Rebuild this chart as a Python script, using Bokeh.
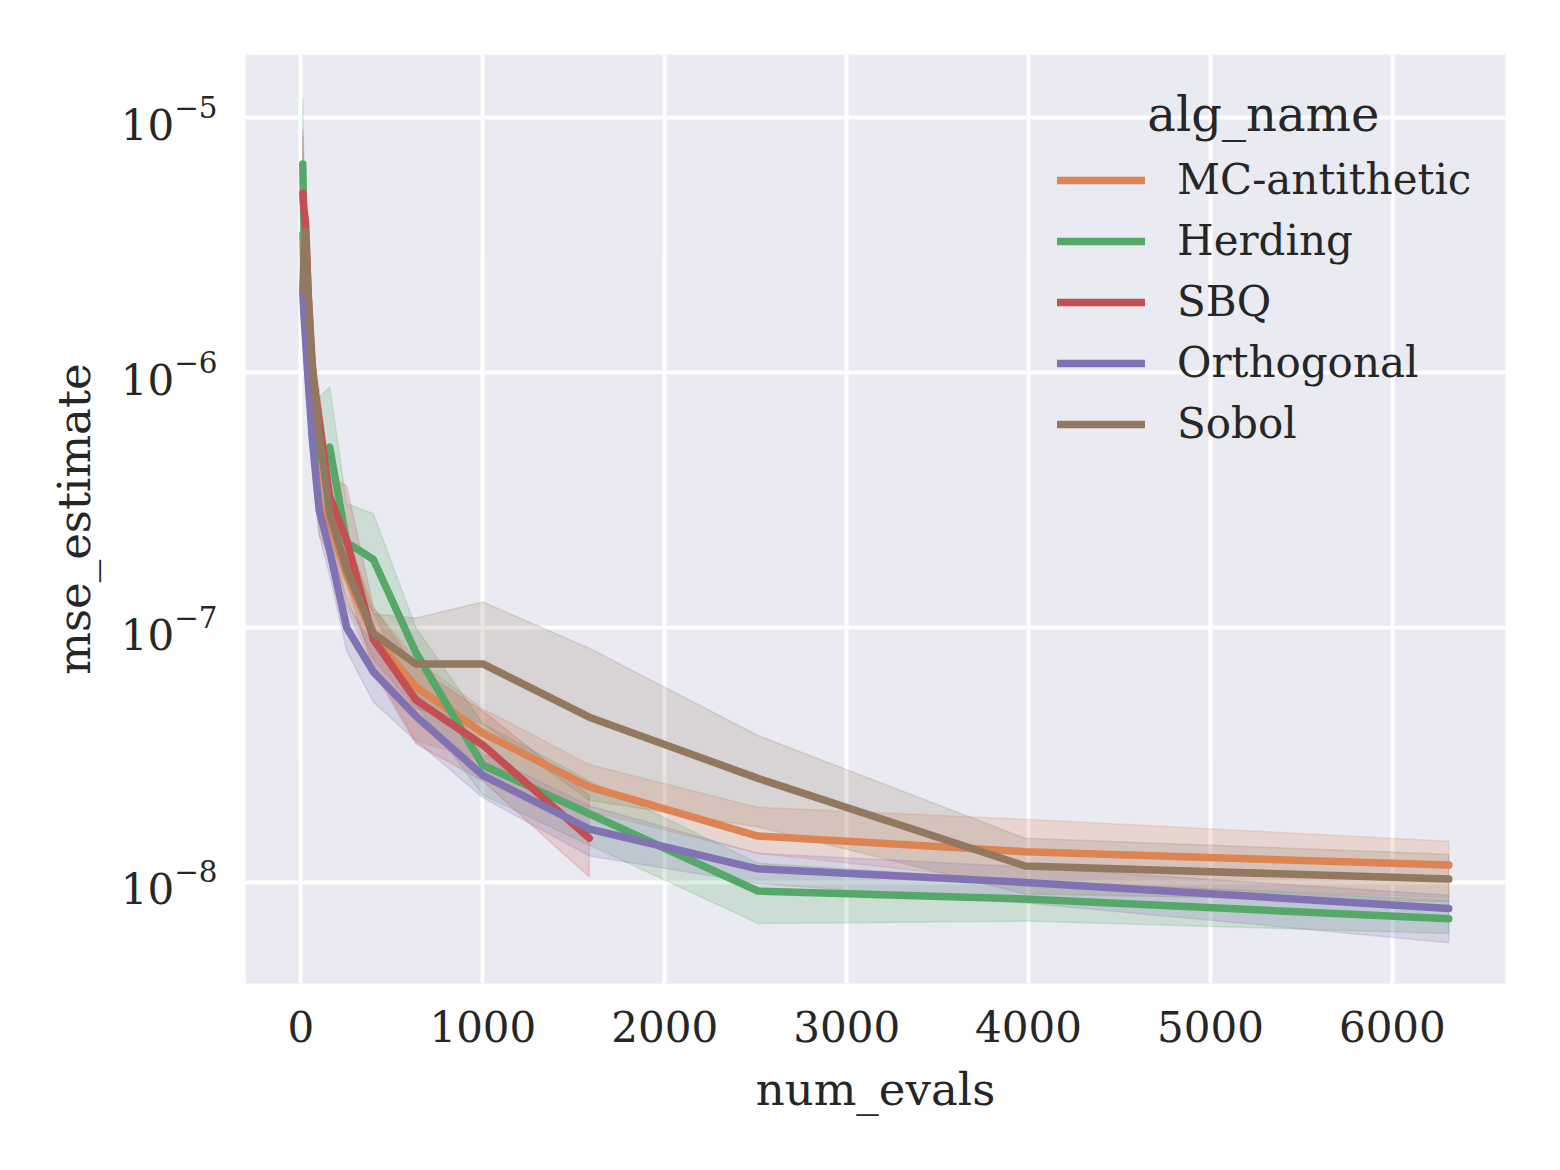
from bokeh.plotting import figure
from bokeh.models import Range1d, FixedTicker, Legend, LegendItem, Label
from bokeh.embed import file_html
from bokeh.resources import INLINE

num_evals = [10, 16, 25, 40, 63, 100, 158, 251, 398, 631, 1000, 1585, 2512, 3981, 6310]

alg_names = ["MC-antithetic", "Herding", "SBQ", "Orthogonal", "Sobol"]

mc_mean = [3.5e-6, 2.5e-6, 1.8e-6, 1.1e-6, 6.0e-7, 3.05e-7, 2.6e-7, 1.6e-7, 9.3e-8, 5.85e-8, 3.85e-8, 2.37e-8, 1.52e-8, 1.32e-8, 1.17e-8]
mc_lo = [1.5e-6, 1.4e-6, 1.1e-6, 7.0e-7, 4.0e-7, 2.3e-7, 1.9e-7, 1.2e-7, 7.0e-8, 3.6e-8, 3.0e-8, 1.9e-8, 1.3e-8, 1.0e-8, 8.7e-9]
mc_hi = [8.5e-6, 4.5e-6, 3.0e-6, 1.7e-6, 9.0e-7, 4.0e-7, 3.6e-7, 2.3e-7, 1.2e-7, 7.5e-8, 4.8e-8, 2.9e-8, 1.97e-8, 1.77e-8, 1.45e-8]

herd_mean = [6.6e-6, 3.6e-6, 2.1e-6, 1.3e-6, 7.5e-7, 4.6e-7, 5.1e-7, 2.16e-7, 1.85e-7, 8.0e-8, 2.88e-8, 1.86e-8, 9.25e-9, 8.6e-9, 7.2e-9]
herd_lo = [3.5e-6, 2.3e-6, 1.4e-6, 9.0e-7, 5.2e-7, 3.2e-7, 3.0e-7, 1.6e-7, 1.15e-7, 5.0e-8, 2.2e-8, 1.4e-8, 6.9e-9, 7.05e-9, 6.3e-9]
herd_hi = [1.2e-5, 5.5e-6, 3.2e-6, 1.9e-6, 1.1e-6, 8.0e-7, 8.8e-7, 3.07e-7, 2.8e-7, 1.0e-7, 4.2e-8, 2.5e-8, 1.19e-8, 1.02e-8, 8.5e-9]

sbq_evals = [10, 16, 25, 40, 63, 100, 158, 251, 398, 631, 1000, 1585]
sbq_mean = [5.05e-6, 4.4e-6, 3.9e-6, 2.0e-6, 1.0e-6, 6.5e-7, 3.25e-7, 2.2e-7, 9.0e-8, 5.2e-8, 3.46e-8, 1.49e-8]
sbq_lo = [3.0e-6, 3.0e-6, 2.7e-6, 1.4e-6, 7.5e-7, 4.8e-7, 2.6e-7, 1.5e-7, 6.8e-8, 3.5e-8, 2.5e-8, 1.05e-8]
sbq_hi = [9.0e-6, 6.5e-6, 5.5e-6, 2.8e-6, 1.35e-6, 8.5e-7, 3.9e-7, 3.6e-7, 1.2e-7, 7.0e-8, 4.7e-8, 2.2e-8]

orth_mean = [2.05e-6, 1.7e-6, 1.35e-6, 9.2e-7, 5.4e-7, 2.9e-7, 2.0e-7, 1.0e-7, 6.7e-8, 4.5e-8, 2.63e-8, 1.62e-8, 1.13e-8, 1.0e-8, 7.9e-9]
orth_lo = [1.4e-6, 1.2e-6, 9.5e-7, 6.8e-7, 4.2e-7, 2.3e-7, 1.6e-7, 8.1e-8, 5.1e-8, 3.6e-8, 2.15e-8, 1.27e-8, 9.9e-9, 8.3e-9, 5.8e-9]
orth_hi = [3.0e-6, 2.4e-6, 1.9e-6, 1.25e-6, 7.0e-7, 3.7e-7, 2.5e-7, 1.25e-7, 8.5e-8, 5.5e-8, 3.2e-8, 2.0e-8, 1.3e-8, 1.15e-8, 8.9e-9]

sobol_mean = [2.1e-6, 2.9e-6, 3.6e-6, 2.0e-6, 1.05e-6, 5.8e-7, 2.8e-7, 1.7e-7, 9.5e-8, 7.2e-8, 7.2e-8, 4.45e-8, 2.56e-8, 1.16e-8, 1.03e-8]
sobol_lo = [1.5e-6, 2.0e-6, 2.4e-6, 1.4e-6, 7.5e-7, 4.2e-7, 2.1e-7, 1.3e-7, 7.5e-8, 4.8e-8, 4.2e-8, 2.1e-8, 1.65e-8, 9.0e-9, 8.4e-9]
sobol_hi = [3.0e-6, 4.0e-6, 5.0e-6, 2.8e-6, 1.4e-6, 7.5e-7, 3.6e-7, 2.3e-7, 1.13e-7, 1.09e-7, 1.26e-7, 8.3e-8, 3.77e-8, 1.49e-8, 1.29e-8]

colors = ["#DD8452", "#55A868", "#C44E52", "#8172B3", "#937860"]

x_ticks = [0, 1000, 2000, 3000, 4000, 5000, 6000]
y_ticks = [1e-8, 1e-7, 1e-6, 1e-5]

series = [
    (num_evals, mc_mean, mc_lo, mc_hi),
    (num_evals, herd_mean, herd_lo, herd_hi),
    (sbq_evals, sbq_mean, sbq_lo, sbq_hi),
    (num_evals, orth_mean, orth_lo, orth_hi),
    (num_evals, sobol_mean, sobol_lo, sobol_hi),
]

FONT = "DejaVu Serif"
TXT = "#262626"

p = figure(width=1552, height=1160, y_axis_type="log",
           x_range=Range1d(-305, 6622), y_range=Range1d(4.01e-9, 1.775e-5),
           output_backend="svg", toolbar_location=None,
           min_border_left=245, min_border_right=47, min_border_top=54, min_border_bottom=177)

p.background_fill_color = "#EAEAF2"
p.border_fill_color = "white"
p.outline_line_color = None

for g in (p.xgrid, p.ygrid):
    g.grid_line_color = "white"
    g.grid_line_width = 4
p.ygrid.minor_grid_line_color = None

p.xaxis.ticker = FixedTicker(ticks=x_ticks)
p.yaxis.ticker = FixedTicker(ticks=y_ticks)

for ax in (p.xaxis, p.yaxis):
    ax.axis_line_color = None
    ax.major_tick_line_color = None
    ax.minor_tick_line_color = None
    ax.major_tick_out = 0
    ax.major_tick_in = 0
    ax.minor_tick_out = 0
    ax.minor_tick_in = 0
    ax.major_label_text_font = FONT
    ax.major_label_text_font_size = "42px"
    ax.major_label_text_color = TXT
    ax.axis_label_text_font = FONT
    ax.axis_label_text_font_size = "45px"
    ax.axis_label_text_color = TXT
    ax.axis_label_text_font_style = "normal"

p.xaxis.axis_label = "num_evals"
p.yaxis.axis_label = "mse_estimate"
p.xaxis.major_label_standoff = 27
p.yaxis.major_label_standoff = 28
p.xaxis.axis_label_standoff = 18
p.yaxis.axis_label_standoff = 17

# bands first (below all lines)
for (xs, m, lo, hi), c in zip(series, colors):
    p.patch(list(xs) + list(xs)[::-1], list(lo) + list(hi)[::-1],
            fill_color=c, fill_alpha=0.2, line_color=c, line_alpha=0.2, line_width=1.5)

renderers = []
for (xs, m, lo, hi), c in zip(series, colors):
    r = p.line(xs, m, line_color=c, line_width=7.5, line_cap="round", line_join="round")
    renderers.append(r)

legend = Legend(items=[LegendItem(label=n, renderers=[r]) for n, r in zip(alg_names, renderers)],
                location=(812, 535))
legend.background_fill_alpha = 0
legend.border_line_color = None
legend.padding = 0
legend.margin = 0
legend.spacing = 12
legend.glyph_width = 88
legend.glyph_height = 40
legend.label_standoff = 32
legend.label_text_font = FONT
legend.label_text_font_size = "42px"
legend.label_text_color = TXT
p.add_layout(legend, "center")

title = Label(x=5291, y=1.037e-5, text="alg_name", text_font=FONT, text_font_size="48px",
              text_color=TXT, text_align="center", text_baseline="alphabetic")
p.add_layout(title)

open("out.html", "w").write(file_html(p, INLINE))
